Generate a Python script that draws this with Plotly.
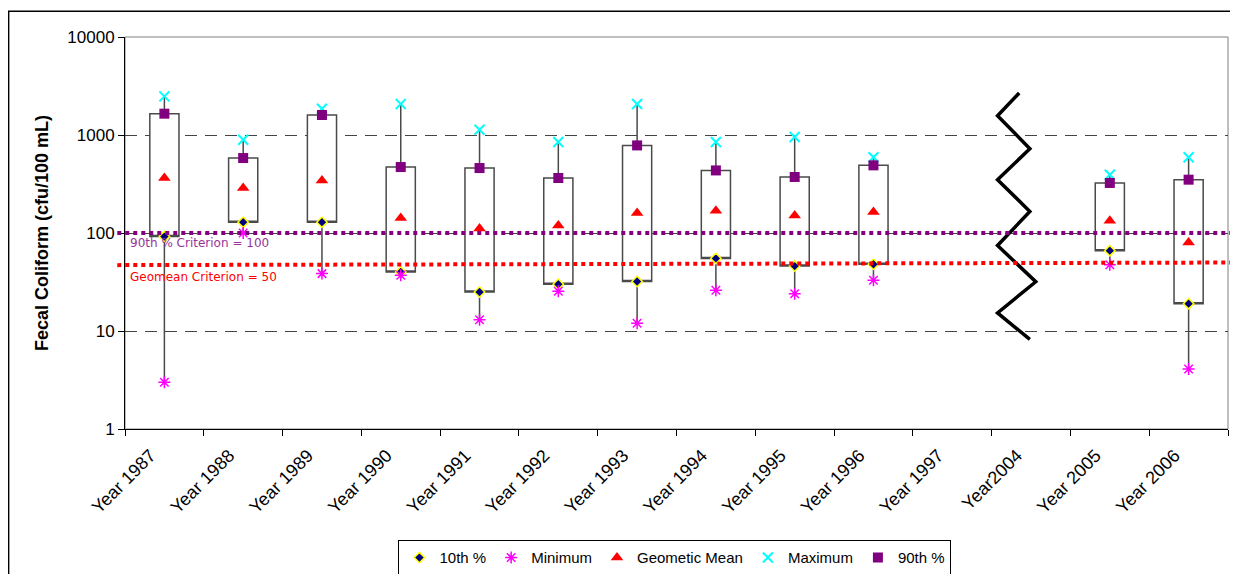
import plotly.graph_objects as go

# ---------------- data ----------------
all_categories = ["Year 1987", "Year 1988", "Year 1989", "Year 1990", "Year 1991",
                  "Year 1992", "Year 1993", "Year 1994", "Year 1995", "Year 1996",
                  "Year 1997", "Year2004", "Year 2005", "Year 2006"]
data_categories = ["Year 1987", "Year 1988", "Year 1989", "Year 1990", "Year 1991",
                   "Year 1992", "Year 1993", "Year 1994", "Year 1995", "Year 1996",
                   "Year 2005", "Year 2006"]
p10 = [92, 129, 129, 40, 25, 30, 32, 55, 46, 48, 66, 19]
minimum = [3, 100, 38.5, 37, 13, 25.5, 12, 26, 24, 33, 47.5, 4.1]
geomean = [364, 288, 344, 142, 111, 119, 160, 169, 151, 164, 133, 80]
maximum = [2480, 896, 1854, 2070, 1133, 848, 2070, 848, 954, 592, 393, 592]
p90 = [1650, 582, 1600, 471, 460, 364, 783, 435, 373, 490, 324, 350]

criterion_90 = [100, 100]          # left, right ends
criterion_geomean = [47, 50]       # left, right ends

# axis-break zigzag (category-index x, value y)
zigzag_x = [10.85, 10.575, 10.985, 10.575, 10.985, 10.575, 11.06, 10.575, 10.985]
zigzag_y = [2683, 1574, 725, 350, 166, 74.6, 31.8, 15.3, 8.2]

y_tickvals = [1, 10, 100, 1000, 10000]
y_ticktext = ["1", "10", "100", "1000", "10000"]

FONT = "Liberation Sans, Arial, sans-serif"

fig = go.Figure()

# boxes: 10th..90th, whiskers min..max
fig.add_trace(go.Box(
    x=data_categories, q1=p10, median=p10, q3=p90,
    lowerfence=minimum, upperfence=maximum,
    width=0.37, whiskerwidth=0,
    fillcolor="white", line=dict(color="#4a4a4a", width=1.5),
    showlegend=False, hoverinfo="skip", boxpoints=False,
))

fig.add_trace(go.Scatter(
    x=data_categories, y=p10, mode="markers", name="10th %",
    marker=dict(symbol="diamond", size=8, color="#000080",
                line=dict(color="#FFFF00", width=1.5)),
))
fig.add_trace(go.Scatter(
    x=data_categories, y=minimum, mode="markers", name="Minimum",
    marker=dict(symbol="asterisk-open", size=10, color="#FF00FF",
                line=dict(color="#FF00FF", width=1.5)),
))
fig.add_trace(go.Scatter(
    x=data_categories, y=geomean, mode="markers", name="Geometic Mean",
    marker=dict(symbol="triangle-up", size=11, color="#FF0000"),
))
fig.add_trace(go.Scatter(
    x=data_categories, y=maximum, mode="markers", name="Maximum",
    marker=dict(symbol="x-thin-open", size=10, color="#00FFFF",
                line=dict(color="#00FFFF", width=2)),
))
fig.add_trace(go.Scatter(
    x=data_categories, y=p90, mode="markers", name="90th %",
    marker=dict(symbol="square", size=10, color="#800080"),
))

# zigzag break marker on an overlaying numeric axis
fig.add_trace(go.Scatter(
    x=zigzag_x, y=zigzag_y, mode="lines", xaxis="x2",
    line=dict(color="black", width=3.5), showlegend=False, hoverinfo="skip",
))

# criterion lines
fig.add_shape(type="line", xref="paper", yref="y",
              x0=-0.007, x1=1.02,
              y0=criterion_90[0], y1=criterion_90[1],
              line=dict(color="#800080", width=4, dash="4px,4px"))
fig.add_shape(type="line", xref="paper", yref="y",
              x0=-0.007, x1=1.02,
              y0=criterion_geomean[0], y1=criterion_geomean[1],
              line=dict(color="#FF0000", width=4, dash="4px,4px"))

fig.add_annotation(text="90th % Criterion = 100", xref="paper", yref="y",
                   x=0.003, y=1.896, xanchor="left", yanchor="middle",
                   showarrow=False, font=dict(family="DejaVu Sans", size=12, color="#993399"))
fig.add_annotation(text="Geomean Criterion = 50", xref="paper", yref="y",
                   x=0.003, y=1.554, xanchor="left", yanchor="middle",
                   showarrow=False, font=dict(family="DejaVu Sans", size=12, color="#FF0000"))

# plot-area border (top/right gray)
fig.add_shape(type="rect", xref="paper", yref="paper", x0=0, x1=1, y0=0, y1=1,
              line=dict(color="#808080", width=1), layer="below")
# outer chart border
fig.add_shape(type="rect", xref="paper", yref="paper",
              x0=-0.1055, x1=1.0073, y0=-0.42, y1=1.066,
              line=dict(color="black", width=1.5))

fig.update_layout(
    width=1238, height=574,
    margin=dict(l=117, r=18, t=29, b=153, autoexpand=False),
    paper_bgcolor="white", plot_bgcolor="white",
    font=dict(family=FONT, color="black"),
    showlegend=True,
    legend=dict(orientation="h", x=0.4986, xanchor="center",
                y=-0.284, yanchor="top",
                bordercolor="black", borderwidth=1,
                font=dict(family=FONT, size=15, color="black"),
                itemwidth=30),
    xaxis=dict(type="category", categoryorder="array", categoryarray=all_categories,
               tickvals=all_categories, range=[-0.5, 13.5], automargin=False,
               tickson="boundaries", ticks="outside", ticklen=6, tickcolor="black",
               showline=True, linecolor="black", linewidth=1,
               showgrid=False, zeroline=False, tickangle=-45,
               ticklabelshift=-14, ticklabelstandoff=8,
               tickfont=dict(family=FONT, size=18, color="black")),
    xaxis2=dict(overlaying="x", range=[-0.5, 13.5], visible=False),
    yaxis=dict(type="log", range=[0, 4], automargin=False,
               tickvals=y_tickvals, ticktext=y_ticktext,
               ticks="outside", ticklen=6, tickcolor="black",
               showline=True, linecolor="black", linewidth=1,
               showgrid=True, gridcolor="#444444", gridwidth=1, griddash="12px,8px",
               zeroline=False,
               tickfont=dict(family=FONT, size=17, color="black"),
               title=dict(text="<b>Fecal Coliform (cfu/100 mL)</b>", standoff=14,
                          font=dict(family=FONT, size=18, color="black"))),
)

fig.write_html("out.html")
